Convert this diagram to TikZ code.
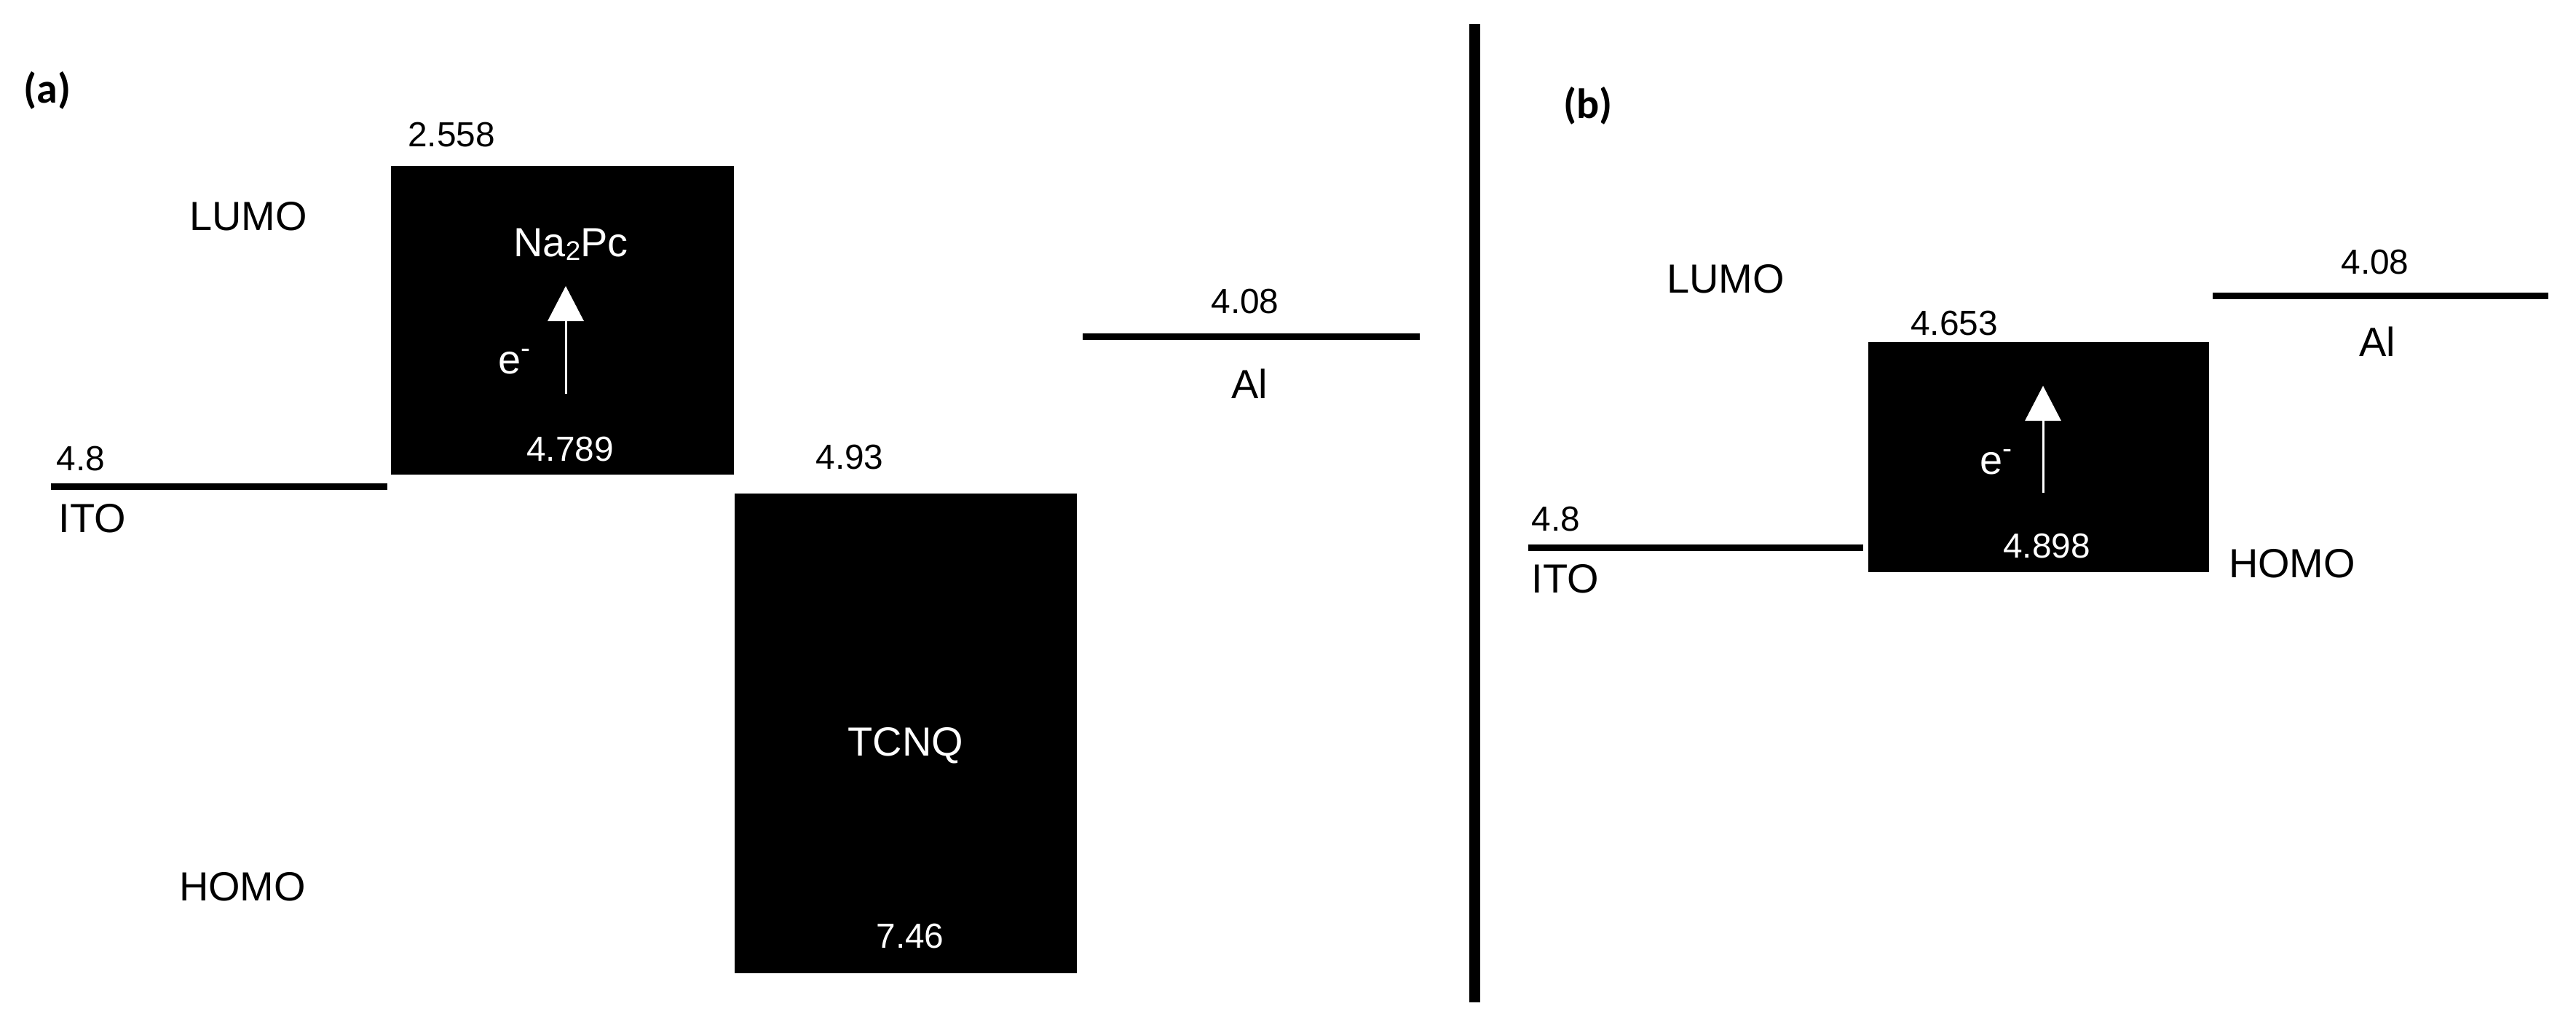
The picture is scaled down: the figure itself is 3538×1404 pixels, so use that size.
\documentclass[tikz,border=0pt]{standalone}
\usepackage{fontspec}
\setmainfont{Liberation Sans}
\newfontfamily\tagfont{Carlito}
\usetikzlibrary{arrows.meta}
\newcommand{\smallsub}[1]{\raisebox{-0.08em}{\fontsize{10.5}{12}\selectfont #1}}
\begin{document}
\begin{tikzpicture}[x=0.01cm,y=-0.01cm,
  lbl/.style={anchor=base,inner sep=0pt,font=\fontsize{15.9}{19}\selectfont},
  num/.style={anchor=base,inner sep=0pt,font=\fontsize{13.6}{16}\selectfont},
  wlbl/.style={lbl,text=white},
  wnum/.style={num,text=white},
  tag/.style={inner sep=0pt,font=\tagfont\bfseries\fontsize{16.5}{19}\selectfont},
  blackbox/.style={draw=none,fill=black,inner sep=0pt},
  level/.style={line width=0.09cm,line cap=butt},
  divider/.style={line width=0.15cm,line cap=butt},
  earrow/.style={white,line width=0.03cm,-{Triangle[length=0.48cm,width=0.49cm]}}
]
\useasboundingbox (0,0) rectangle (3538,1404);
\fill[white] (0,0) rectangle (3538,1404);

% ---------------- panel (a) ----------------
\node[tag] (taga) at (65,124) {(a)};

\node[blackbox,minimum width=4.71cm,minimum height=4.24cm] (na) at (772.5,440) {};
\node[blackbox,minimum width=4.70cm,minimum height=6.59cm] (tcnq) at (1244,1007.5) {};

\node[num] (n2558) at (620,202) {2.558};
\node[lbl] (lumoa) at (341,317) {LUMO};
\node[wlbl] (napc) at (784,353) {Na\smallsub{2}Pc};
\node[wlbl] (ea) at (707,514) {e\textsuperscript{-}};
\node[wnum] (n4789) at (783,634) {4.789};
\node[num] (n48a) at (111,647) {4.8};
\node[lbl] (itoa) at (127,732) {ITO};
\node[num] (n493) at (1167,645) {4.93};
\node[wlbl] (tcnqt) at (1244,1039) {TCNQ};
\node[wnum] (n746) at (1250,1303) {7.46};
\node[lbl] (homoa) at (333,1238) {HOMO};
\node[num] (n408a) at (1710,431) {4.08};
\node[lbl] (ala) at (1716,548) {Al};

\coordinate (itoaL) at (70,669);
\coordinate (itoaR) at (532,669);
\draw[level] (itoaL) -- (itoaR);
\coordinate (alaL) at (1487,463);
\coordinate (alaR) at (1950,463);
\draw[level] (alaL) -- (alaR);

\coordinate (arra1) at (777,541);
\coordinate (arra2) at (777,393);
\draw[earrow] (arra1) -- (arra2);

% ---------------- divider ----------------
\coordinate (divT) at (2025,33);
\coordinate (divB) at (2025,1377);
\draw[divider] (divT) -- (divB);

% ---------------- panel (b) ----------------
\node[tag] (tagb) at (2181,145) {(b)};

\node[blackbox,minimum width=4.68cm,minimum height=3.16cm] (bb) at (2800,628) {};

\node[lbl] (lumob) at (2370,403) {LUMO};
\node[num] (n408b) at (3262,377) {4.08};
\node[lbl] (alb) at (3265,490) {Al};
\node[num] (n4653) at (2684,461) {4.653};
\node[wlbl] (eb) at (2742,652) {e\textsuperscript{-}};
\node[wnum] (n4898) at (2811,767) {4.898};
\node[lbl] (homob) at (3148,794) {HOMO};
\node[num] (n48b) at (2137,730) {4.8};
\node[lbl] (itob) at (2150,815) {ITO};

\coordinate (itobL) at (2099,753);
\coordinate (itobR) at (2559,753);
\draw[level] (itobL) -- (itobR);
\coordinate (albL) at (3039,407);
\coordinate (albR) at (3500,407);
\draw[level] (albL) -- (albR);

\coordinate (arrb1) at (2806,677);
\coordinate (arrb2) at (2806,530);
\draw[earrow] (arrb1) -- (arrb2);
\end{tikzpicture}
\end{document}
